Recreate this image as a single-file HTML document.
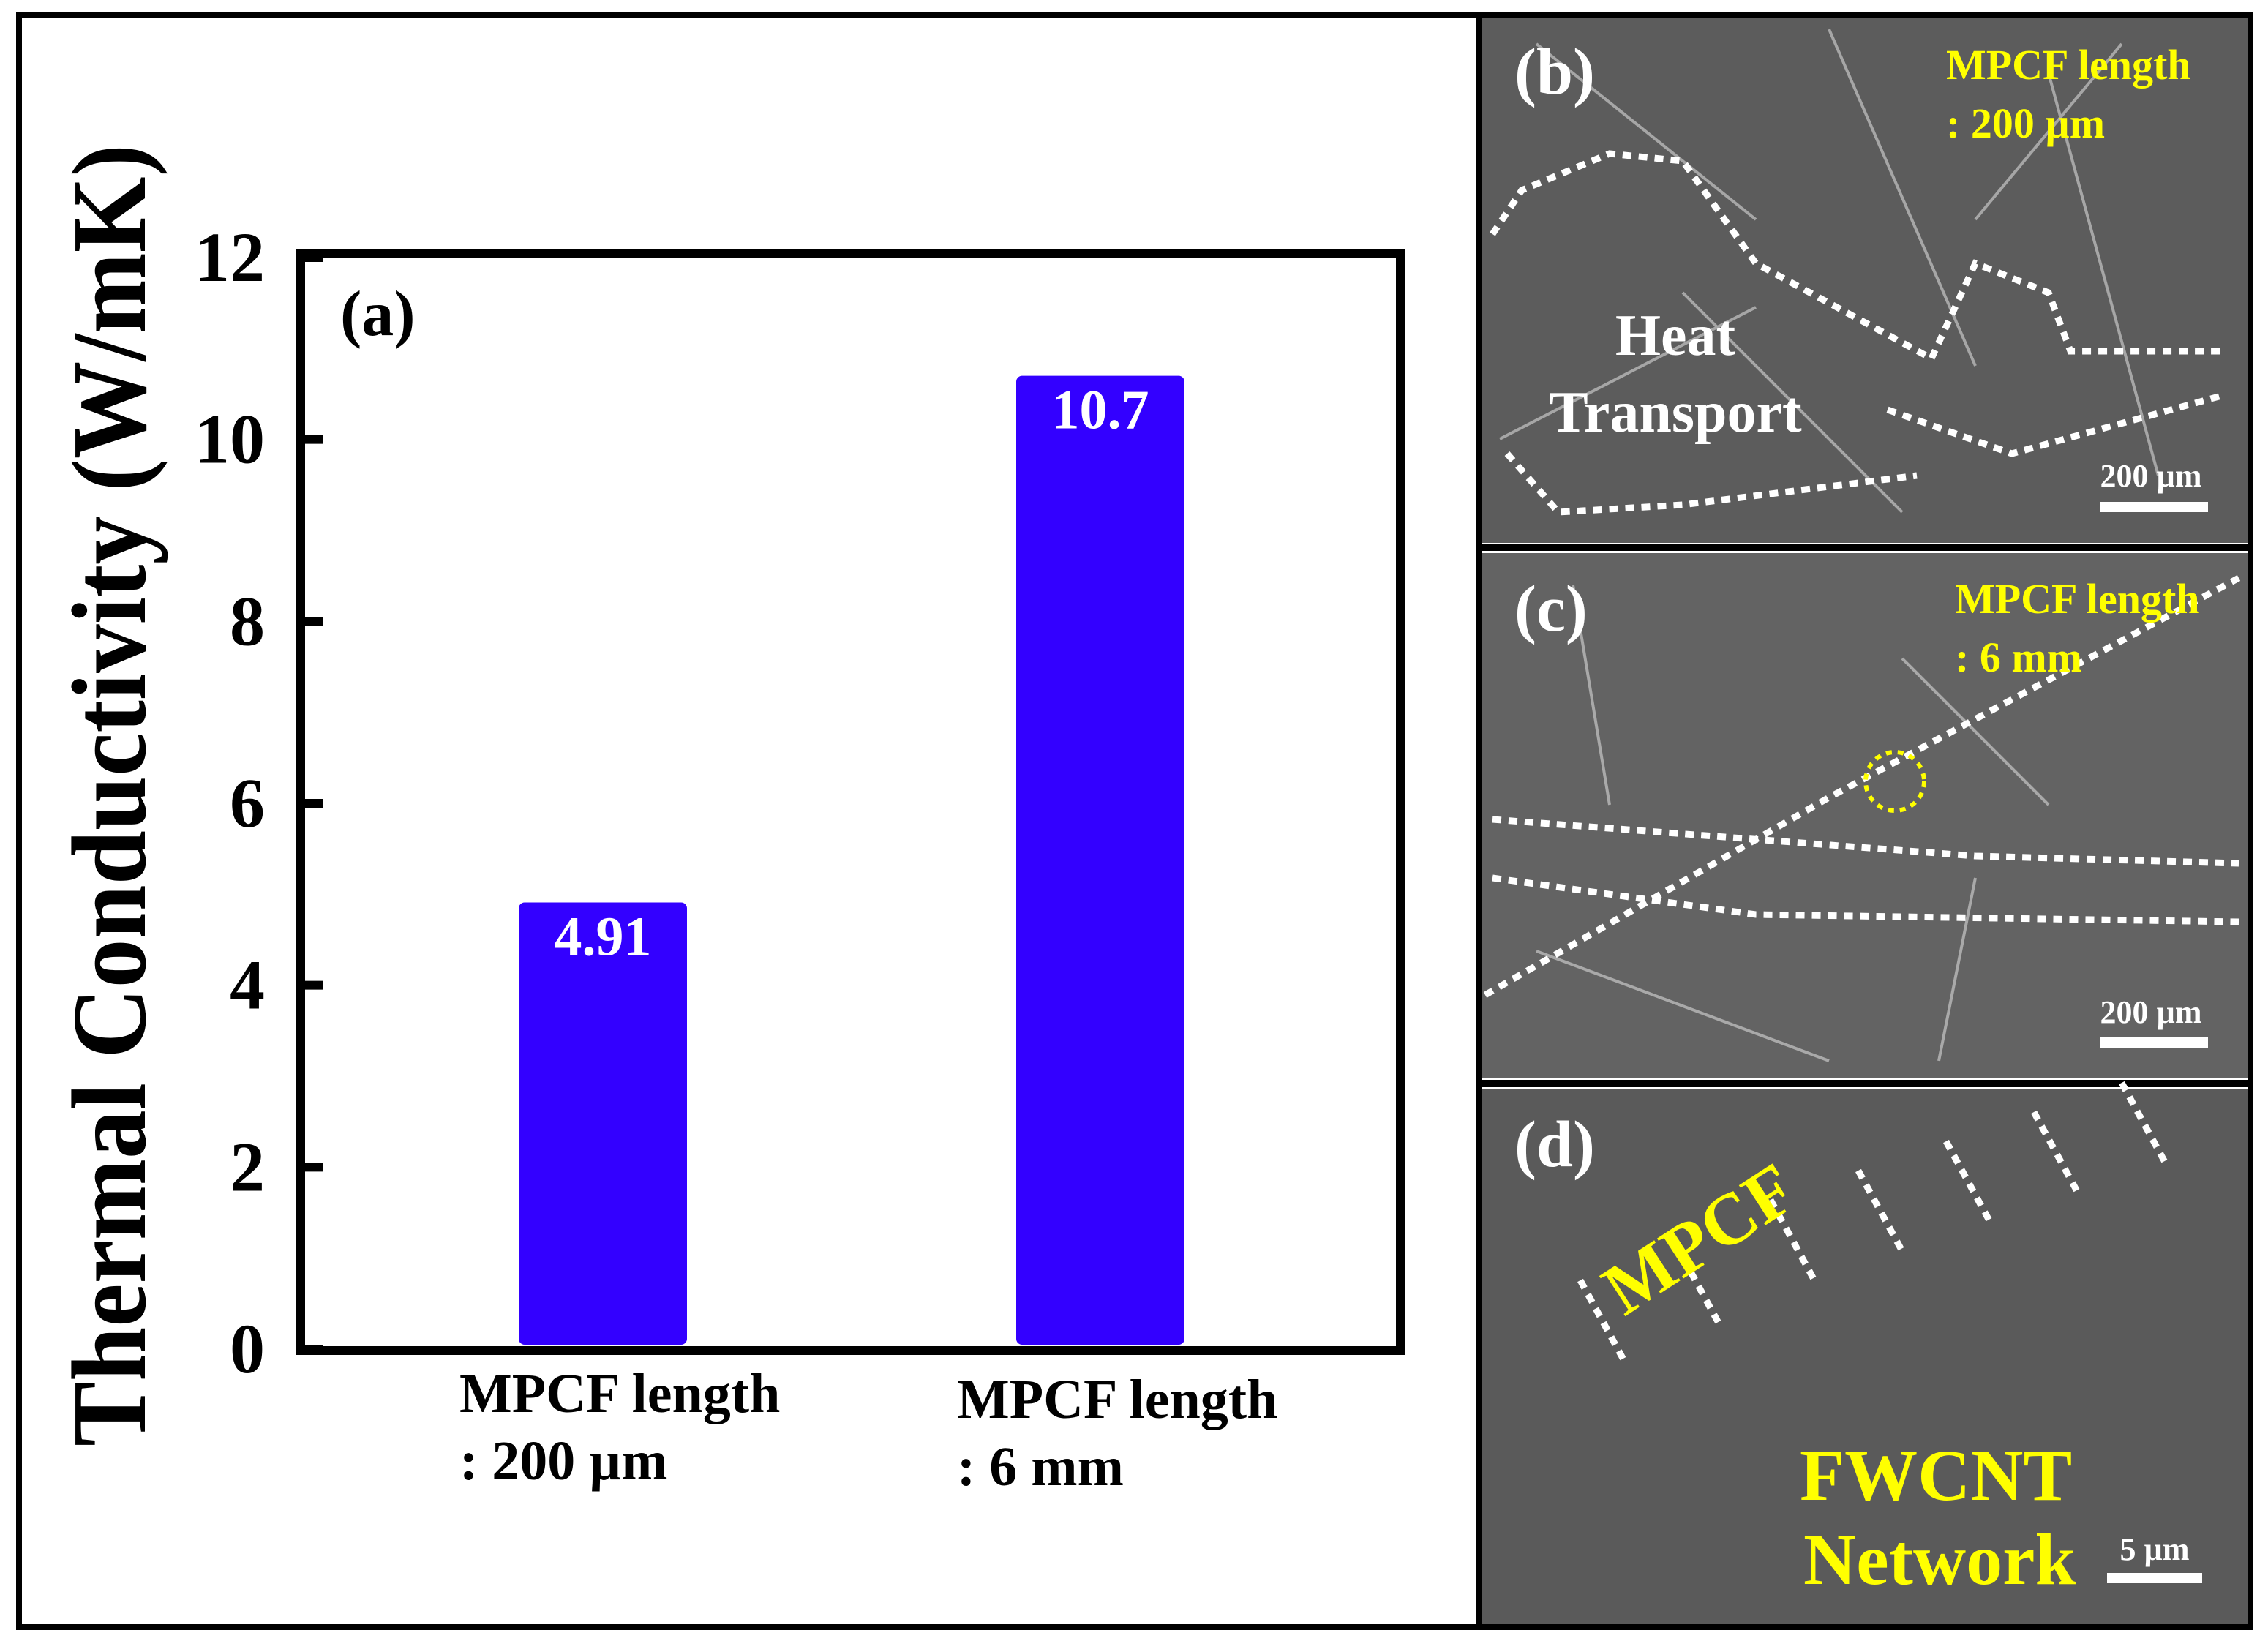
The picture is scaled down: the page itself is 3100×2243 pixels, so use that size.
<!DOCTYPE html>
<html><head><meta charset="utf-8">
<style>html,body{margin:0;padding:0;background:#fff}svg{display:block}text{font-family:"Liberation Serif",serif;font-weight:bold}</style>
</head><body>
<svg id="fig" width="3100" height="2243" viewBox="0 0 3100 2243" xmlns="http://www.w3.org/2000/svg">
<rect x="0" y="0" width="3100" height="2243" fill="#fff"/>
<rect x="26" y="20" width="3050" height="2204" fill="none" stroke="#000" stroke-width="8"/>
<line x1="2022" y1="20" x2="2022" y2="2224" stroke="#000" stroke-width="8"/>
<g id="chart">
<rect x="411" y="346" width="1503" height="1500" fill="none" stroke="#000" stroke-width="12"/>
<text x="0" y="0" transform="translate(198,1087) rotate(-90)" font-size="145" text-anchor="middle" textLength="1780" lengthAdjust="spacingAndGlyphs">Thermal Conductivity (W/mK)</text>
<text x="465" y="458" font-size="88">(a)</text>
</g>
<g id="panels">
<rect x="2026" y="24" width="1046" height="718" fill="#5c5c5c"/>
<rect x="2026" y="756" width="1046" height="718" fill="#636363"/>
<rect x="2026" y="1488" width="1046" height="732" fill="#5a5a5a"/>
<line x1="2022" y1="748" x2="3076" y2="748" stroke="#000" stroke-width="10"/>
<line x1="2022" y1="1481" x2="3076" y2="1481" stroke="#000" stroke-width="10"/>
<g stroke="#d8d8d8" stroke-width="4" opacity="0.6">
<line x1="2100" y1="60" x2="2400" y2="300"/><line x1="2500" y1="40" x2="2700" y2="500"/><line x1="2800" y1="100" x2="2950" y2="650"/>
<line x1="2300" y1="400" x2="2600" y2="700"/><line x1="2050" y1="600" x2="2400" y2="420"/><line x1="2900" y1="60" x2="2700" y2="300"/>
<line x1="2150" y1="800" x2="2200" y2="1100"/><line x1="2600" y1="900" x2="2800" y2="1100"/><line x1="2700" y1="1200" x2="2650" y2="1450"/>
<line x1="2100" y1="1300" x2="2500" y2="1450"/>
</g>
<g stroke="#fff" stroke-width="9" stroke-dasharray="12 10" fill="none">
<polyline points="2040,320 2080,260 2200,210 2300,220 2400,360 2640,490 2700,360 2800,400 2830,480 3040,480"/>
<polyline points="2060,620 2130,700 2300,690 2620,650"/>
<polyline points="2580,560 2750,620 3040,540"/>
<polyline points="2030,1360 2500,1090 3060,790"/>
<polyline points="2040,1120 2700,1170 3060,1180"/>
<polyline points="2040,1200 2400,1250 3060,1260"/>
<path d="M2160,1750 l60,110 M2290,1700 l60,110 M2420,1640 l60,110 M2540,1600 l60,110 M2660,1560 l60,110 M2780,1520 l60,110 M2900,1480 l60,110"/>
</g>
<circle cx="2590" cy="1068" r="40" fill="none" stroke="#ffff00" stroke-width="6" stroke-dasharray="8 8"/>
<text x="2070" y="128" font-size="90" fill="#fff">(b)</text>
<text x="2070" y="862" font-size="90" fill="#fff">(c)</text>
<text x="2070" y="1594" font-size="90" fill="#fff">(d)</text>
<text x="2660" y="108" font-size="58" fill="#ffff00">MPCF length</text>
<text x="2660" y="188" font-size="58" fill="#ffff00">: 200 µm</text>
<text x="2672" y="838" font-size="58" fill="#ffff00">MPCF length</text>
<text x="2672" y="918" font-size="58" fill="#ffff00">: 6 mm</text>
<text x="2290" y="485" font-size="80" fill="#fff" text-anchor="middle">Heat</text>
<text x="2290" y="590" font-size="80" fill="#fff" text-anchor="middle">Transport</text>
<text x="0" y="0" transform="translate(2220,1800) rotate(-33)" font-size="100" fill="#ffff00">MPCF</text>
<text x="2460" y="2050" font-size="100" fill="#ffff00">FWCNT</text>
<text x="2465" y="2165" font-size="100" fill="#ffff00">Network</text>
<text x="2940" y="665" font-size="44" fill="#fff" text-anchor="middle">200 µm</text>
<rect x="2870" y="686" width="148" height="14" fill="#fff"/>
<text x="2940" y="1398" font-size="44" fill="#fff" text-anchor="middle">200 µm</text>
<rect x="2870" y="1418" width="148" height="14" fill="#fff"/>
<text x="2945" y="2132" font-size="44" fill="#fff" text-anchor="middle">5 µm</text>
<rect x="2880" y="2150" width="130" height="14" fill="#fff"/>
</g>
</svg>
<script>
const categories = ["MPCF length|: 200 µm", "MPCF length|: 6 mm"];
const values = [4.91, 10.7];
const valueLabels = ["4.91", "10.7"];
const yTicks = [0, 2, 4, 6, 8, 10, 12];
const NS = "http://www.w3.org/2000/svg";
const chart = document.getElementById('chart');
const y0 = 1844, y1 = 352, yMin = 0, yMax = 12;
function yScale(v){ return y0 - (v - yMin) / (yMax - yMin) * (y0 - y1); }
const xStart = 411;
const bandStart = 484, bandW = 680, barW = 230;
function xCenter(i){ return bandStart + bandW * (i + 0.5); }
function mk(tag, attrs){ const e = document.createElementNS(NS, tag); for (const k in attrs) e.setAttribute(k, attrs[k]); chart.appendChild(e); return e; }
yTicks.forEach(function(t){
  const y = yScale(t);
  const tk = mk('line', {x1: xStart, y1: y, x2: xStart + 30, y2: y, stroke: '#000', 'stroke-width': 12});
  
  
  const tl = mk('text', {x: 362, y: y + 32, 'font-size': 96, 'text-anchor': 'end'});
  tl.textContent = String(t);
  
  
});
values.forEach(function(v, i){
  const cx = xCenter(i);
  const top = yScale(v);
  const b = mk('rect', {x: cx - barW / 2, y: top, width: barW, height: y0 - 6 - top, rx: 8, fill: '#3300ff'});
  
  
  const lb = mk('text', {x: cx, y: top + 72, 'font-size': 76, fill: '#fff', 'text-anchor': 'middle'});
  lb.textContent = valueLabels[i];
  
  
  const parts = categories[i].split('|');
  const c1 = mk('text', {x: cx - 196, y: 1930 + i * 8, 'font-size': 76});
  c1.textContent = parts[0];
  
  
  const c2 = mk('text', {x: cx - 196, y: 2022 + i * 8, 'font-size': 76});
  c2.textContent = parts[1];
  
  
});
</script>
</body></html>
